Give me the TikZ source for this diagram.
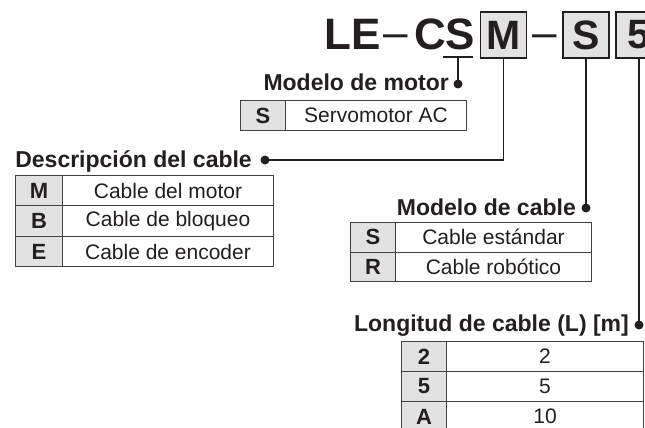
\documentclass[tikz,border=0pt]{standalone}
\usepackage{fontspec}
\setmainfont{Liberation Sans}
\definecolor{ink}{HTML}{231F20}
\definecolor{cellgray}{HTML}{E2E2E3}
\begin{document}
\begin{tikzpicture}[x=1pt,y=-1pt,
  big/.style={font=\fontsize{44}{44}\selectfont\bfseries,text=ink,inner sep=0pt},
  boxch/.style={draw=ink,line width=1.3pt,fill=cellgray,minimum width=46pt,minimum height=46pt,inner sep=0pt,
     font=\fontsize{41}{41}\selectfont\bfseries,text=ink},
  lbl/.style={font=\fontsize{23}{23}\selectfont\bfseries,text=ink,inner sep=0pt},
  code/.style={draw=ink!85,line width=1pt,fill=cellgray,inner sep=0pt,anchor=north west,
     font=\fontsize{22}{22}\selectfont\bfseries,text=ink},
  desc/.style={draw=ink!85,line width=1pt,fill=white,inner sep=0pt,anchor=north west,
     font=\fontsize{21}{21}\selectfont,text=ink},
  conn/.style={draw=ink,line width=1.3pt},
  dotc/.style={fill=ink}
]
\clip (0,0) rectangle (645,428);
\fill[white] (0,0) rectangle (645,428);

% part number
\node[big,anchor=base west] (le) at (324,50) {LE};
\node[big,anchor=base west,font=\fontsize{44}{44}\selectfont] (d1) at (383,48) {–};
\node[big,anchor=base west] (cs) at (414,50) {CS};
\node[boxch] (bm) at (503.5,35) {M};
\node[big,anchor=base west,font=\fontsize{44}{44}\selectfont] (d2) at (532,48) {–};
\node[boxch] (bs) at (586,35) {S};
\node[boxch] (b5) at (639,35) {5};

\coordinate (ul1) at (443,57);
\coordinate (ul2) at (473,57);
\draw[conn] (ul1) -- (ul2);
\coordinate (ulm) at (458,57);

% dots
\coordinate (p1) at (458,84);
\coordinate (p2) at (265,160);
\coordinate (p3) at (586,208);
\coordinate (p4) at (639,325);
\coordinate (c2) at (503.5,160);

\draw[conn] (ulm) -- (p1);
\draw[conn] (p2) -- (c2) -- (bm.south);
\draw[conn] (p3) -- (bs.south);
\draw[conn] (p4) -- (b5.south);
\foreach \p in {p1,p2,p3,p4} \fill[dotc] (\p) circle (4.5pt);

% labels
\node[lbl,anchor=base east] (l1) at (449,90) {Modelo de motor};
\node[lbl,anchor=base east] (l2) at (252,167) {Descripción del cable};
\node[lbl,anchor=base east] (l3) at (576,215) {Modelo de cable};
\node[lbl,anchor=base east] (l4) at (629,331) {Longitud de cable (L) [m]};

% motor table
\node[code,minimum width=45pt,minimum height=30pt] (m1c) at (240,100) {S};
\node[desc,minimum width=181pt,minimum height=30pt] (m1d) at (285,100) {Servomotor AC};

% description table
\node[code,minimum width=47pt,minimum height=30.4pt] (d1c) at (15,175) {M};
\node[desc,minimum width=211pt,minimum height=30.4pt] (d1d) at (62,175) {Cable del motor};
\node[code,minimum width=47pt,minimum height=30.4pt] (d2c) at (15,205.4) {B};
\node[desc,minimum width=211pt,minimum height=30.4pt] (d2d) at (62,205.4) {Cable de bloqueo};
\node[code,minimum width=47pt,minimum height=30.4pt] (d3c) at (15,235.8) {E};
\node[desc,minimum width=211pt,minimum height=30.4pt] (d3d) at (62,235.8) {Cable de encoder};

% cable table
\node[code,minimum width=45pt,minimum height=29.5pt] (c1c) at (350,222) {S};
\node[desc,minimum width=196pt,minimum height=29.5pt] (c1d) at (395,222) {Cable estándar};
\node[code,minimum width=45pt,minimum height=29.5pt] (c2c) at (350,251.5) {R};
\node[desc,minimum width=196pt,minimum height=29.5pt] (c2d) at (395,251.5) {Cable robótico};

% length table
\node[code,minimum width=45pt,minimum height=30pt] (t1c) at (401,341) {2};
\node[desc,minimum width=197pt,minimum height=30pt] (t1d) at (446,341) {2};
\node[code,minimum width=45pt,minimum height=30pt] (t2c) at (401,371) {5};
\node[desc,minimum width=197pt,minimum height=30pt] (t2d) at (446,371) {5};
\node[code,minimum width=45pt,minimum height=30pt] (t3c) at (401,401) {A};
\node[desc,minimum width=197pt,minimum height=30pt] (t3d) at (446,401) {10};
\end{tikzpicture}
\end{document}
